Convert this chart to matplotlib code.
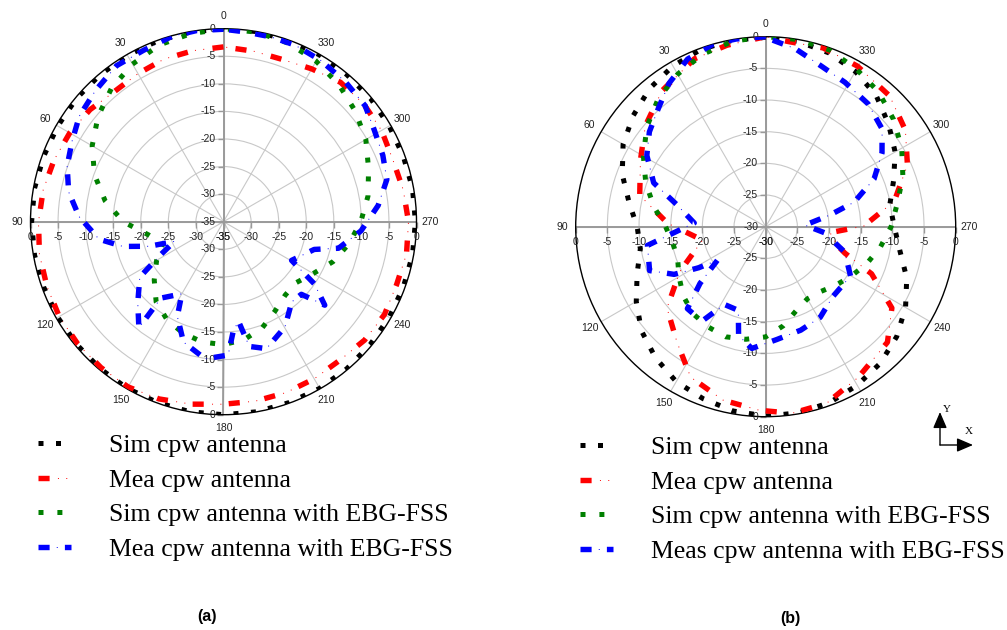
import numpy as np
import matplotlib
matplotlib.use("Agg")
import matplotlib.pyplot as plt
from matplotlib import markers

plt.rcParams["lines.scale_dashes"] = False

# ---------------- data (dB, angles in degrees) ----------------
deg10 = list(range(0, 360, 10))

# (a)
a_sim = [0.0, -0.1, -0.1, -0.2, -0.2, -0.2, -0.3, -0.3, -0.2, -0.2, -0.2, -0.3,
         -0.3, -0.3, -0.2, -0.1, -0.1, 0.0, 0.0, 0.0, -0.1, -0.1, -0.2, -0.3,
         -0.3, -0.3, -0.2, -0.2, -0.2, -0.3, -0.3, -0.2, -0.2, -0.1, -0.1, 0.0]
a_mea = [-3.3, -3.5, -3.6, -4.0, -4.2, -3.4, -2.8, -2.3, -1.8, -1.45, -1.1, -0.9,
         -0.6, -0.5, -0.45, -0.4, -0.8, -1.4, -1.9, -1.95, -2.0, -2.1, -2.2, -1.6,
         -1.3, -1.6, -1.3, -1.45, -1.9, -2.3, -1.9, -1.8, -2.0, -3.0, -3.7, -3.6]
a_sim_ebg = [0.0, -0.4, -0.9, -2.0, -3.4, -5.3, -7.5, -10.1, -13.2, -16.8, -21.2, -23.3,
             -21.0, -18.6, -16.0, -14.5, -13.5, -12.85, -12.7, -13.3, -14.5, -16.3, -17.6, -17.8,
             -16.2, -13.85, -11.9, -10.1, -8.4, -7.0, -5.2, -3.8, -2.5, -1.4, -0.55, -0.1]
a_mea_ebg_deg = [0, 8, 15.5, 25, 34.4, 44.2, 53.8, 62, 70.4, 79.1, 88, 98, 103.8, 108.3,
                 111.9, 117.9, 123.5, 133.4, 141.4, 140.7, 150, 154, 161.6, 172.4, 182,
                 185.2, 188.6, 191.7, 198.7, 210.3, 220.4, 227, 230.5, 235.6, 240.4, 253,
                 257, 266.2, 276, 284.5, 292.6, 301.3, 309.3, 319, 329, 338, 345.7, 353.4]
a_mea_ebg = [-0.1, 0.0, -0.1, -0.7, -0.7, -1.75, -2.6, -3.9, -4.9, -6.4, -8.8, -12.2, -16.2,
             -20.8, -25.4, -22.0, -16.8, -13.6, -10.4, -17.1, -19.9, -15.9, -12.0, -9.9, -10.8,
             -15.2, -16.7, -11.9, -10.7, -12.9, -15.9, -15.7, -11.2, -15.0, -20.8, -17.8,
             -13.6, -10.0, -6.8, -4.4, -3.7, -3.0, -1.8, -1.35, -0.85, -0.45, -0.4, -0.35]

# (b)
b_sim = [-0.1, -0.1, -0.2, -0.7, -1.5, -2.7, -4.0, -5.9, -8.1, -9.7, -9.9, -8.4,
         -6.4, -4.4, -2.95, -1.75, -1.1, -0.45, -0.1, -0.15, -0.45, -1.1, -1.85, -3.0,
         -4.5, -6.3, -8.5, -9.7, -10.1, -8.5, -6.4, -4.7, -2.9, -1.7, -0.8, -0.3]
b_mea_deg = [0, 12, 23, 37.3, 50, 62, 76, 88, 102, 117.6, 129.5, 142.5, 153.5, 166.2,
             178, 188, 199, 211.7, 226.5, 237.2, 246, 251.5, 255, 264.7, 270.4, 281.2,
             293.5, 304.6, 316.5, 330.3, 342.2, 353]
b_mea = [0.0, -0.7, -1.2, -3.0, -5.2, -7.6, -9.5, -14.5, -19.8, -14.7, -9.8, -7.0,
         -3.45, -1.8, -1.0, -0.25, -0.5, -2.1, -3.5, -6.3, -11.7, -16.8, -18.2, -19.8,
         -14.5, -9.3, -5.6, -3.2, -1.55, -0.8, -0.35, -0.55]
b_sim_ebg = [0.0, -0.25, -1.0, -2.2, -3.6, -5.5, -7.7, -9.85, -12.1, -14.2, -15.1, -15.2,
             -14.2, -13.0, -12.1, -11.75, -11.5, -11.95, -12.6, -14.1, -15.9, -16.85, -16.6, -15.6,
             -14.4, -13.0, -11.6, -10.2, -8.9, -6.95, -5.2, -3.65, -2.25, -1.3, -0.35, 0.0]
b_mea_ebg_deg = [0, 9, 16, 25, 34, 42.1, 50.8, 59, 68.6, 76, 87, 99, 110.7, 117.5, 121.5,
                 124.8, 130.8, 136.3, 146, 152, 161.9, 166, 173.5, 185.6, 198.7, 211,
                 223.8, 239.8, 252.2, 264.2, 272.3, 280.3, 285.5, 293.8, 302.4, 310, 320.2,
                 331.2, 341.4, 350.6, 358]
b_mea_ebg = [0.0, 0.0, 0.0, -0.8, -2.7, -4.75, -6.3, -8.1, -11.0, -15.5, -18.7, -11.1,
             -10.4, -13.7, -17.6, -20.7, -16.3, -12.1, -12.0, -16.1, -16.1, -12.3, -10.65,
             -12.1, -12.75, -13.3, -14.7, -14.5, -16.9, -20.7, -23.8, -19.7, -15.5, -11.3,
             -8.25, -6.0, -4.75, -4.0, -3.1, -1.5, -0.5]

angle_ticks = list(range(0, 360, 30))
labels_a = ["Sim cpw antenna", "Mea cpw antenna",
            "Sim cpw antenna with EBG-FSS", "Mea cpw antenna with EBG-FSS"]
labels_b = ["Sim cpw antenna", "Mea cpw antenna",
            "Sim cpw antenna with EBG-FSS", "Meas cpw antenna with EBG-FSS"]

# ---------------- line styles ----------------
STYLES = [
    dict(color="#000000", lw=3.6, dashes=(3.6, 9.0), thin=None),
    dict(color="#ff0000", lw=3.9, dashes=(8.0, 18.0),
         thin=(12.0, (0.7, 5.3, 0.7, 19.3))),
    dict(color="#008000", lw=3.6, dashes=(3.6, 10.0), thin=None),
    dict(color="#0000ff", lw=3.9, dashes=(8.0, 11.0),
         thin=(5.85, (0.7, 18.3))),
]

W, H = 1007, 630
fig = plt.figure(figsize=(W / 100, H / 100), dpi=100)

SANS = "Liberation Sans"
SERIF = "Liberation Serif"
TXT = "#222222"


def closed(deg, val):
    d = list(deg) + [deg[0] + 360]
    v = list(val) + [val[0]]
    return np.deg2rad(d), np.array(v)


def draw_series(ax, deg, val, st):
    th, r = closed(deg, val)
    thick, = ax.plot(th, r, color=st["color"], lw=st["lw"],
                     linestyle=(0, st["dashes"]), dash_capstyle="butt",
                     solid_capstyle="butt", zorder=6)
    if st["thin"] is None:
        return thick
    thin, = ax.plot(th, r, color=st["color"], lw=0.7, linestyle=st["thin"],
                    zorder=5)
    return (thick, thin)


def setup_polar(cx, cy, R, rmin):
    ax = fig.add_axes([(cx - R) / W, (H - cy - R) / H, 2 * R / W, 2 * R / H],
                      projection="polar")
    ax.set_theta_zero_location("N")
    ax.set_theta_direction(1)
    ax.set_ylim(rmin, 0)
    ax.set_yticks(np.arange(rmin + 5, 0, 5))
    ax.set_yticklabels([])
    ax.tick_params(axis="y", length=0)
    ax.set_xticks(np.deg2rad(angle_ticks))
    ax.set_xticklabels([str(d) for d in angle_ticks], fontfamily=SANS,
                       fontsize=7.5, color=TXT)
    ax.tick_params(axis="x", direction="out", length=4, width=0.8, pad=-1.5,
                   color="black")
    ax.grid(True, color="#c8c8c8", lw=0.8)
    ax.spines["polar"].set_color("black")
    ax.spines["polar"].set_linewidth(1.0)
    ax.set_facecolor("white")

    # main cross axes through the centre
    for t in (0, 90, 180, 270):
        ax.plot([np.deg2rad(t)] * 2, [rmin, 0], color="#9a9a9a", lw=1.4, zorder=2)

    ring_vals = np.arange(rmin, 1, 5)
    # labels along the vertical axis (left of the line)
    for t in (0, 180):
        for v in ring_vals:
            if t == 180 and v == rmin:
                continue
            ax.plot(np.deg2rad(t), v, marker=markers.TICKLEFT, ms=4,
                    color="#9a9a9a", mew=1.0, zorder=2, clip_on=False)
            ax.annotate(f"{v:g}", xy=(np.deg2rad(t), v), xytext=(-5.5, 0),
                        textcoords="offset points", ha="right", va="center",
                        fontfamily=SANS, fontsize=7.5, color=TXT, zorder=3,
                        annotation_clip=False)
    # labels along the horizontal axis (below the line)
    for t in (90, 270):
        for v in ring_vals:
            ax.plot(np.deg2rad(t), v, marker=markers.TICKDOWN, ms=4,
                    color="#9a9a9a", mew=1.0, zorder=2, clip_on=False)
            ax.annotate(f"{v:g}", xy=(np.deg2rad(t), v), xytext=(0, -7.5),
                        textcoords="offset points", ha="center", va="top",
                        fontfamily=SANS, fontsize=7.5, color=TXT, zorder=3,
                        annotation_clip=False)
    return ax


def add_legend(ax, handles, labels, x_px, y_px):
    ax.legend(handles, labels, loc="upper left",
              bbox_to_anchor=(x_px / W, 1 - y_px / H),
              bbox_transform=fig.transFigure, frameon=False,
              prop={"family": SERIF, "size": 18.5},
              handlelength=1.3, handletextpad=1.45, labelspacing=0.45,
              borderpad=0, borderaxespad=0)


# ---------------- panel (a) ----------------
ax_a = setup_polar(223.5, 221.7, 193, -35)
hand_a = [
    draw_series(ax_a, deg10, a_sim, STYLES[0]),
    draw_series(ax_a, deg10, a_mea, STYLES[1]),
    draw_series(ax_a, deg10, a_sim_ebg, STYLES[2]),
    draw_series(ax_a, a_mea_ebg_deg, a_mea_ebg, STYLES[3]),
]
add_legend(ax_a, hand_a, labels_a, 38, 434)

# ---------------- panel (b) ----------------
ax_b = setup_polar(765.7, 226.7, 190, -30)
hand_b = [
    draw_series(ax_b, deg10, b_sim, STYLES[0]),
    draw_series(ax_b, b_mea_deg, b_mea, STYLES[1]),
    draw_series(ax_b, deg10, b_sim_ebg, STYLES[2]),
    draw_series(ax_b, b_mea_ebg_deg, b_mea_ebg, STYLES[3]),
]
add_legend(ax_b, hand_b, labels_b, 580, 436)

# captions
fig.text(207 / W, 1 - 617 / H, "(a)", ha="center", va="center",
         fontfamily=SANS, fontweight="bold", fontsize=11.5)
fig.text(790 / W, 1 - 618 / H, "(b)", ha="center", va="center",
         fontfamily=SANS, fontweight="bold", fontsize=11.5)

# coordinate icon
arrow = dict(arrowstyle="-|>,head_length=0.7,head_width=0.3", color="black",
             lw=1.0, shrinkA=0, shrinkB=0, mutation_scale=14)
fig.add_artist(matplotlib.patches.FancyArrowPatch((940, H - 445), (940, H - 412),
                                                  transform=None, **arrow))
fig.add_artist(matplotlib.patches.FancyArrowPatch((940, H - 445), (973, H - 445),
                                                  transform=None, **arrow))
fig.text(947 / W, 1 - 410 / H, "Y", ha="center", va="center",
         fontfamily=SERIF, fontsize=8)
fig.text(969 / W, 1 - 432 / H, "X", ha="center", va="center",
         fontfamily=SERIF, fontsize=8)

fig.savefig("out.png", dpi=100, facecolor="white")
